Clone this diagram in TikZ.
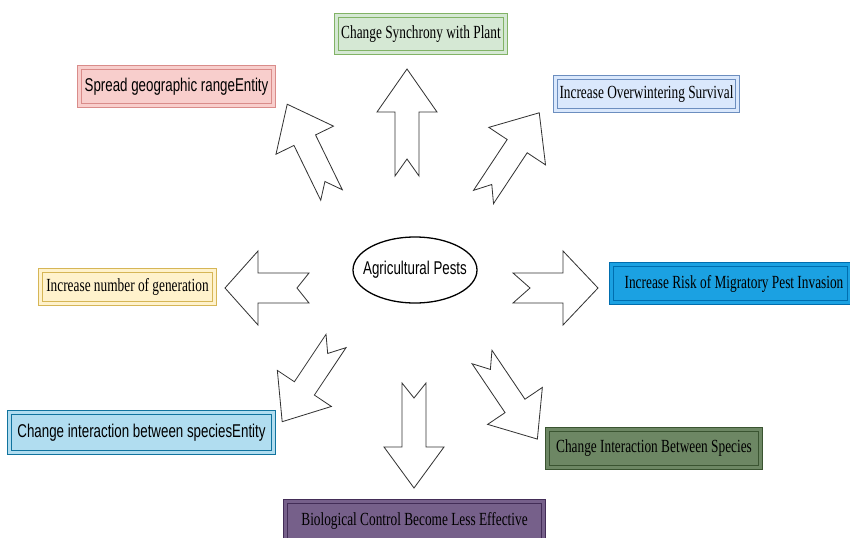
\documentclass[tikz,border=0pt]{standalone}
\usepackage{fontspec}
\usetikzlibrary{shapes.geometric}
\newfontfamily\bserif[FakeStretch=0.72]{Liberation Serif}
\newfontfamily\bsans[FakeStretch=0.72]{Liberation Sans}
\def\pxu{0.03cm}
\definecolor{gfill}{HTML}{D5E8D4}\definecolor{gline}{HTML}{82B366}
\definecolor{rfill}{HTML}{F8CECC}\definecolor{rline}{HTML}{D98C8A}
\definecolor{bfill}{HTML}{DAE8FC}\definecolor{bline}{HTML}{6C8EBF}
\definecolor{yfill}{HTML}{FFF2CC}\definecolor{yline}{HTML}{D6B656}
\definecolor{dbfill}{HTML}{1BA1E2}\definecolor{dbline}{HTML}{006EAF}
\definecolor{cfill}{HTML}{B1DDF0}\definecolor{cline}{HTML}{10739E}
\definecolor{dgfill}{HTML}{6D8764}\definecolor{dgline}{HTML}{3A5431}
\definecolor{pfill}{HTML}{76608A}\definecolor{pline}{HTML}{432D57}
\tikzset{
  box/.style={rectangle, line width=0.7pt, double distance=2.4pt, inner sep=0pt, text=black},
  boxsize/.style 2 args={minimum width={(#1-5)*\pxu}, minimum height={(#2-5)*\pxu}},
  colbox/.style 2 args={draw=#2, fill=#1, double=#1},
  sertext/.style={font=\bserif\fontsize{15.8pt}{18pt}\selectfont},
  santext/.style={font=\bsans\fontsize{15.8pt}{18pt}\selectfont},
  barrow/.style={draw=black!80, fill=white, line width=0.7pt, line join=miter}
}
\newcommand\blockarrow[8]{%
  \begin{scope}[shift={(#1,#2)}, rotate=#3]
    \draw[barrow] (0,#7) -- (#4-#5,#7) -- (#4-#5,#6) -- (#4,0) -- (#4-#5,-#6)
      -- (#4-#5,-#7) -- (0,-#7) -- (#8,0) -- cycle;
  \end{scope}}
\begin{document}
\begin{tikzpicture}[x=0.03cm, y=-0.03cm]
\useasboundingbox (0,0) rectangle (850,537);
\fill[white] (0,0) rectangle (850,537);

% boxes
\node[box, boxsize={174}{42}, colbox={gfill}{gline}, sertext] (sync) at (421,34) {Change Synchrony with Plant};
\node[box, boxsize={199}{43}, colbox={rfill}{rline}, santext] (spread) at (176.5,86.5) {Spread geographic rangeEntity};
\node[box, boxsize={187}{38}, colbox={bfill}{bline}, sertext] (winter) at (646.5,94) {Increase Overwintering Survival};
\node[box, boxsize={179}{38}, colbox={yfill}{yline}, sertext] (gener) at (127.5,287) {Increase number of generation};
\node[box, boxsize={243}{43}, colbox={dbfill}{dbline}] (migr) at (730.5,283.5) {};
\node[sertext, inner sep=0pt] (migrtext) at (734,283.5) {Increase Risk of Migratory Pest Invasion};
\node[box, boxsize={269}{45}, colbox={cfill}{cline}, santext] (inter) at (141.5,432.5) {Change interaction between speciesEntity};
\node[box, boxsize={218}{43}, colbox={dgfill}{dgline}, sertext] (inter2) at (654,448.5) {Change Interaction Between Species};
\node[box, boxsize={263}{44}, colbox={pfill}{pline}, sertext] (bio) at (414.5,521) {Biological Control Become Less Effective};

% centre
\node[santext, inner sep=0pt] (pests) at (415,270) {Agricultural Pests};
\draw[line width=1.1pt] (pests.center) ellipse [x radius={62*\pxu}, y radius={33*\pxu}];

% block arrows: tail x, tail y, angle, length, head length, head half, shaft half, notch
\blockarrow{407}{176}{90}{107}{43}{30}{12}{17}
\blockarrow{331.5}{195}{116}{101}{40}{32}{12}{15}
\blockarrow{483.5}{197}{56.5}{101}{40}{34}{12}{15}
\blockarrow{309}{288}{180}{84}{33}{37}{15}{12}
\blockarrow{513}{288}{0}{85}{35}{37}{15}{17}
\blockarrow{336}{341}{236.3}{97}{40}{32.5}{12}{15}
\blockarrow{414}{383}{270}{105}{41}{30}{12}{15}
\blockarrow{482}{357}{-56}{99}{40}{33}{12}{15}
\end{tikzpicture}
\end{document}
